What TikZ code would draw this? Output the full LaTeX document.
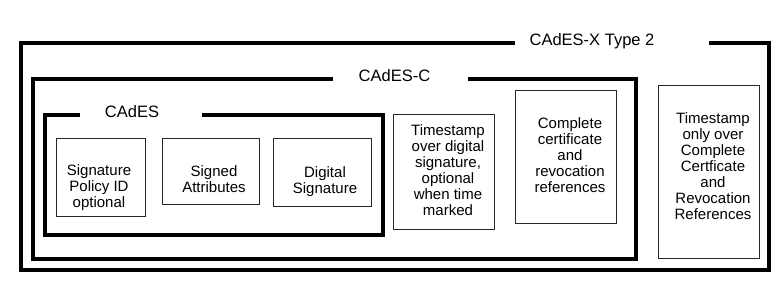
\documentclass[tikz,border=0pt]{standalone}
\usepackage{fontspec}
\setmainfont{Liberation Sans}

\begin{document}
\begin{tikzpicture}[x=1pt, y=-1pt,
    frame/.style={line width=4pt},
    box/.style={draw=black!85, line width=1pt, inner sep=0pt},
    txt/.style={align=center, font=\fontsize{15}{16}\selectfont, inner sep=0pt},
    ttl/.style={anchor=base, font=\fontsize{16.5}{19}\selectfont, inner sep=0pt}]
    \useasboundingbox (0,0) rectangle (780,288);

    % nested frames, each open where its title sits
    \draw[frame] (515,43.5) -| (20.5,269.7) -| (768.7,43.5) -- (709,43.5);
    \draw[frame] (333,79.3) -| (33,258.7) -| (635.7,79.3) -- (468,79.3);
    \draw[frame] (80,115.3) -| (45.3,234.7) -| (382.5,115.3) -- (202,115.3);

    \node[ttl] (xtype) at (592,46) {CAdES-X Type 2};
    \node[ttl] (cadesc) at (394.5,82) {CAdES-C};
    \node[ttl] (cades) at (132,118) {CAdES};

    % CAdES parts
    \node[box, minimum width=88.6pt, minimum height=77.7pt] (policy) at (101,177.2) {};
    \node[txt] (policytxt) at (99,187.5) {Signature\\Policy ID\\optional};
    \node[box, minimum width=97.3pt, minimum height=65.7pt] (signed) at (210.7,171.2) {};
    \node[txt] (signedtxt) at (214,179.5) {Signed\\Attributes};
    \node[box, minimum width=97.7pt, minimum height=68pt] (digsig) at (322.2,172.3) {};
    \node[txt] (digsigtxt) at (325,181.5) {Digital\\Signature};

    % CAdES-C parts
    \node[box, minimum width=101pt, minimum height=115pt] (tsdig) at (443.8,171.8) {};
    \node[txt] (tsdigtxt) at (448,170) {Timestamp\\over digital\\signature,\\optional\\when time\\marked};
    \node[box, minimum width=101.3pt, minimum height=133.3pt] (refs) at (566.3,157.3) {};
    \node[txt] (refstxt) at (570,155.5) {Complete\\certificate\\and\\revocation\\references};

    % CAdES-X Type 2 part
    \node[box, minimum width=101.3pt, minimum height=172.7pt] (tsrefs) at (708.7,172) {};
    \node[txt] (tsrefstxt) at (713,166.5) {Timestamp\\only over\\Complete\\Certficate\\and\\Revocation\\References};
\end{tikzpicture}
\end{document}
